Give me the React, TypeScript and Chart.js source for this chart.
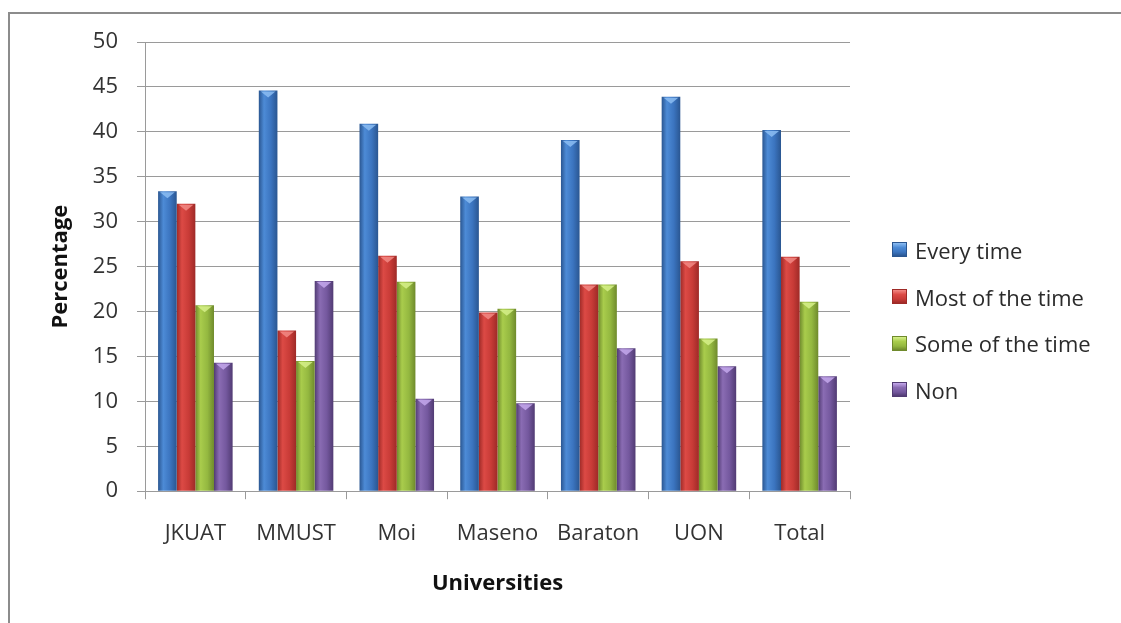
import React, { useEffect, useRef } from "react";
import { Chart, registerables } from "chart.js";

Chart.register(...registerables);

const categories = ["JKUAT", "MMUST", "Moi", "Maseno", "Baraton", "UON", "Total"];
const seriesNames = ["Every time", "Most of the time", "Some of the time", "Non"];
const everyTime = [33.4, 44.6, 40.9, 32.8, 39.1, 43.9, 40.2];
const mostOfTheTime = [32.0, 17.9, 26.2, 19.9, 23.0, 25.6, 26.1];
const someOfTheTime = [20.7, 14.5, 23.3, 20.3, 23.0, 17.0, 21.1];
const non = [14.3, 23.4, 10.3, 9.8, 15.9, 13.9, 12.8];
const yMin = 0;
const yMax = 50;
const yStep = 5;
const xTitle = "Universities";
const yTitle = "Percentage";

const palette = [
  { dark: "#2a5691", light: "#4d8bd6", mid: "#3b74bf", tip: "#8cbdf2" },
  { dark: "#9e2a27", light: "#dc4a45", mid: "#c83b37", tip: "#f28a85" },
  { dark: "#6f8a2c", light: "#a9cc4c", mid: "#94b840", tip: "#d6f08a" },
  { dark: "#513b73", light: "#8a6cb3", mid: "#74589e", tip: "#c4a8ec" },
];

const FONT = "'Open Sans', 'DejaVu Sans', sans-serif";

const bevelPlugin = {
  id: "bevel",
  beforeDatasetsDraw(chart: any) {
    const ctx = chart.ctx;
    chart.data.datasets.forEach((_ds: any, di: number) => {
      const meta = chart.getDatasetMeta(di);
      const pal = palette[di];
      meta.data.forEach((el: any) => {
        const { x, width } = el.getProps(["x", "width"], true);
        const left = x - width / 2;
        const g = ctx.createLinearGradient(left, 0, left + width, 0);
        g.addColorStop(0, pal.dark);
        g.addColorStop(0.28, pal.light);
        g.addColorStop(0.65, pal.mid);
        g.addColorStop(1, pal.dark);
        el.options = { ...el.options, backgroundColor: g };
      });
    });
  },
  afterDatasetsDraw(chart: any) {
    const ctx = chart.ctx;
    ctx.save();
    chart.data.datasets.forEach((_ds: any, di: number) => {
      const meta = chart.getDatasetMeta(di);
      const pal = palette[di];
      meta.data.forEach((el: any) => {
        const { x, y, width } = el.getProps(["x", "y", "width"], true);
        const l = x - width / 2 + 2;
        const r = x + width / 2 - 2;
        ctx.beginPath();
        ctx.moveTo(l, y + 1);
        ctx.lineTo(r, y + 1);
        ctx.lineTo(x, y + 7);
        ctx.closePath();
        ctx.fillStyle = pal.tip;
        ctx.globalAlpha = 0.85;
        ctx.fill();
      });
    });
    ctx.restore();
  },
};

export default function App() {
  const canvasRef = useRef<HTMLCanvasElement | null>(null);

  useEffect(() => {
    if (!canvasRef.current) return;
    const values = [everyTime, mostOfTheTime, someOfTheTime, non];
    const chart = new Chart(canvasRef.current, {
      type: "bar",
      data: {
        labels: categories,
        datasets: seriesNames.map((name, i) => ({
          label: name,
          data: values[i],
          backgroundColor: palette[i].mid,
          borderWidth: 0,
          categoryPercentage: 0.74,
          barPercentage: 1.0,
        })),
      },
      plugins: [bevelPlugin],
      options: {
        animation: false,
        responsive: true,
        maintainAspectRatio: false,
        events: [],
        layout: { padding: { top: 28, right: 271, bottom: 0, left: 0 } },
        plugins: {
          legend: { display: false },
          tooltip: { enabled: false },
          title: { display: false },
        },
        scales: {
          x: {
            offset: true,
            grid: {
              drawOnChartArea: false,
              drawTicks: true,
              tickLength: 8,
              color: "#9a9a9a",
              lineWidth: 1,
              offset: true,
            },
            border: { display: true, color: "#9a9a9a", width: 1 },
            ticks: {
              padding: 21,
              color: "#333333",
              font: { family: FONT, size: 22 },
              maxRotation: 0,
            },
            title: {
              display: true,
              text: xTitle,
              color: "#111111",
              font: { family: FONT, size: 22, weight: "bold" },
              padding: { top: 3, bottom: 26 },
            },
          },
          y: {
            min: yMin,
            max: yMax,
            grid: {
              drawOnChartArea: true,
              drawTicks: true,
              tickLength: 8,
              color: "#9a9a9a",
              lineWidth: 1,
            },
            border: { display: true, color: "#9a9a9a", width: 1 },
            ticks: {
              stepSize: yStep,
              padding: 19,
              color: "#333333",
              font: { family: FONT, size: 22 },
            },
            title: {
              display: true,
              text: yTitle,
              color: "#111111",
              font: { family: FONT, size: 22, weight: "bold" },
              padding: { top: 38, bottom: 10 },
            },
            afterFit: (scale: any) => {
              scale.width = 135;
              scale.paddingTop = 12;
              scale.paddingBottom = 12;
            },
          },
        },
      },
    });
    return () => chart.destroy();
  }, []);

  return (
    <div
      style={{
        position: "fixed",
        left: 8,
        top: 12,
        width: 1113,
        height: 611,
        boxSizing: "border-box",
        borderLeft: "2px solid #8c8c8c",
        borderTop: "2px solid #8c8c8c",
        background: "#ffffff",
        overflow: "hidden",
      }}
    >
      <div style={{ position: "absolute", left: 0, top: 0, width: 1111, height: 609 }}>
        <canvas ref={canvasRef} />
      </div>
      <div style={{ position: "absolute", left: 882, top: 212.5 }}>
        {seriesNames.map((name, i) => (
          <div
            key={name}
            style={{ display: "flex", alignItems: "center", height: 46.7 }}
          >
            <span
              style={{
                display: "inline-block",
                width: 15,
                height: 15,
                marginRight: 8,
                background: `linear-gradient(180deg, ${palette[i].tip} 0%, ${palette[i].light} 35%, ${palette[i].mid} 70%, ${palette[i].dark} 100%)`,
                border: `1px solid ${palette[i].dark}`,
                boxSizing: "border-box",
              }}
            />
            <span
              style={{
                fontFamily: FONT,
                fontSize: 22,
                color: "#2b2b2b",
                whiteSpace: "nowrap",
                lineHeight: "26px",
              }}
            >
              {name}
            </span>
          </div>
        ))}
      </div>
    </div>
  );
}
